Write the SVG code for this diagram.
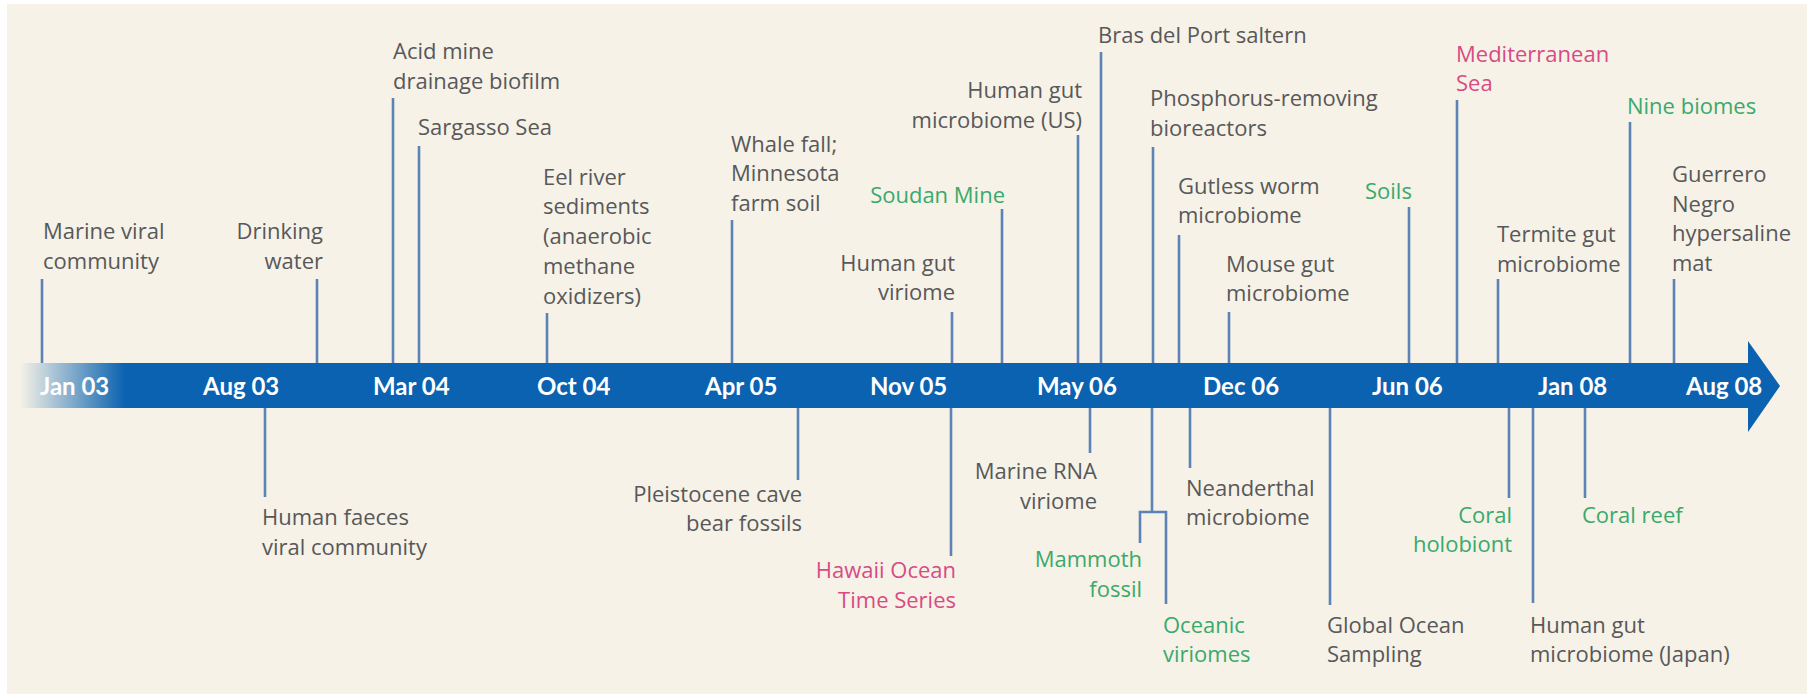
<svg xmlns="http://www.w3.org/2000/svg" width="1810" height="695" viewBox="0 0 1810 695">
<style>
.t{font-family:"Open Sans",Lato,"Liberation Sans",sans-serif;font-size:22px;fill:#58585a}
.g{fill:#3aa96b}
.p{fill:#d94a84}
.r{text-anchor:end}
.d{font-family:Lato,"Open Sans","Liberation Sans",sans-serif;font-size:24px;font-weight:bold;fill:#ffffff}
.c line,.c polyline{stroke:#5d83b6;stroke-width:2.6;fill:none}
</style>
<defs>
<linearGradient id="fade" x1="20" y1="0" x2="125" y2="0" gradientUnits="userSpaceOnUse">
<stop offset="0" stop-color="#0a62b0" stop-opacity="0"/>
<stop offset="1" stop-color="#0a62b0" stop-opacity="1"/>
</linearGradient>
</defs>
<rect x="0" y="0" width="1810" height="695" fill="#ffffff"/>
<rect x="7" y="4" width="1800" height="690" fill="#f6f2e7"/>

<g id="timeline">
<rect x="20" y="363" width="1730" height="45" fill="url(#fade)"/>
<polygon points="125,363 1748,363 1748,341 1780,386 1748,432 1748,408 125,408" fill="#0a62b0"/>
</g>

<g class="c" id="connectors">
<line x1="42" y1="279" x2="42" y2="363"/>
<line x1="317" y1="279" x2="317" y2="363"/>
<line x1="393" y1="98" x2="393" y2="363"/>
<line x1="419" y1="146" x2="419" y2="363"/>
<line x1="547" y1="313" x2="547" y2="363"/>
<line x1="732" y1="220" x2="732" y2="363"/>
<line x1="1002" y1="209" x2="1002" y2="363"/>
<line x1="952" y1="312" x2="952" y2="363"/>
<line x1="1078" y1="135" x2="1078" y2="363"/>
<line x1="1101" y1="52" x2="1101" y2="363"/>
<line x1="1153" y1="147" x2="1153" y2="363"/>
<line x1="1179" y1="235" x2="1179" y2="363"/>
<line x1="1229" y1="312" x2="1229" y2="363"/>
<line x1="1409" y1="207" x2="1409" y2="363"/>
<line x1="1457" y1="100" x2="1457" y2="363"/>
<line x1="1498" y1="279" x2="1498" y2="363"/>
<line x1="1630" y1="122" x2="1630" y2="363"/>
<line x1="1674" y1="279" x2="1674" y2="363"/>

<line x1="265" y1="408" x2="265" y2="497"/>
<line x1="798" y1="408" x2="798" y2="480"/>
<line x1="951" y1="408" x2="951" y2="556"/>
<line x1="1090" y1="408" x2="1090" y2="453"/>
<line x1="1152" y1="408" x2="1152" y2="512"/>
<polyline points="1140,543 1140,512 1166,512 1166,604"/>
<line x1="1190" y1="408" x2="1190" y2="468"/>
<line x1="1330" y1="408" x2="1330" y2="605"/>
<line x1="1509" y1="408" x2="1509" y2="498"/>
<line x1="1533" y1="408" x2="1533" y2="603"/>
<line x1="1585" y1="408" x2="1585" y2="498"/>
</g>

<g id="dates">
<text class="d" x="40" y="395">Jan 03</text>
<text class="d" x="203" y="395">Aug 03</text>
<text class="d" x="373" y="395">Mar 04</text>
<text class="d" x="537" y="395">Oct 04</text>
<text class="d" x="705" y="395">Apr 05</text>
<text class="d" x="870" y="395">Nov 05</text>
<text class="d" x="1037" y="395">May 06</text>
<text class="d" x="1203" y="395">Dec 06</text>
<text class="d" x="1372" y="395">Jun 06</text>
<text class="d" x="1538" y="395">Jan 08</text>
<text class="d" x="1686" y="395">Aug 08</text>
</g>

<g id="n-marine-viral"><text class="t" x="43" y="239">Marine viral</text><text class="t" x="43" y="269">community</text></g>
<g id="n-drinking"><text class="t r" x="323" y="239">Drinking</text><text class="t r" x="323" y="269">water</text></g>
<g id="n-acid-mine"><text class="t" x="393" y="59">Acid mine</text><text class="t" x="393" y="89">drainage biofilm</text></g>
<g id="n-sargasso"><text class="t" x="418" y="135">Sargasso Sea</text></g>
<g id="n-eel-river"><text class="t" x="543" y="185">Eel river</text><text class="t" x="543" y="214">sediments</text><text class="t" x="543" y="244">(anaerobic</text><text class="t" x="543" y="274">methane</text><text class="t" x="543" y="304">oxidizers)</text></g>
<g id="n-whale-fall"><text class="t" x="731" y="152">Whale fall;</text><text class="t" x="731" y="181">Minnesota</text><text class="t" x="731" y="211">farm soil</text></g>
<g id="n-soudan"><text class="t g r" x="1005" y="203">Soudan Mine</text></g>
<g id="n-gut-viriome"><text class="t r" x="955" y="271">Human gut</text><text class="t r" x="955" y="300">viriome</text></g>
<g id="n-gut-us"><text class="t r" x="1082" y="98">Human gut</text><text class="t r" x="1082" y="128">microbiome (US)</text></g>
<g id="n-bras"><text class="t" x="1098" y="43">Bras del Port saltern</text></g>
<g id="n-phosphorus"><text class="t" x="1150" y="106">Phosphorus-removing</text><text class="t" x="1150" y="136">bioreactors</text></g>
<g id="n-gutless"><text class="t" x="1178" y="194">Gutless worm</text><text class="t" x="1178" y="223">microbiome</text></g>
<g id="n-mouse"><text class="t" x="1226" y="272">Mouse gut</text><text class="t" x="1226" y="301">microbiome</text></g>
<g id="n-soils"><text class="t g" x="1365" y="199">Soils</text></g>
<g id="n-mediterranean"><text class="t p" x="1456" y="62">Mediterranean</text><text class="t p" x="1456" y="91">Sea</text></g>
<g id="n-termite"><text class="t" x="1497" y="242">Termite gut</text><text class="t" x="1497" y="272">microbiome</text></g>
<g id="n-nine-biomes"><text class="t g" x="1627" y="114">Nine biomes</text></g>
<g id="n-guerrero"><text class="t" x="1672" y="182">Guerrero</text><text class="t" x="1672" y="212">Negro</text><text class="t" x="1672" y="241">hypersaline</text><text class="t" x="1672" y="271">mat</text></g>

<g id="n-faeces"><text class="t" x="262" y="525">Human faeces</text><text class="t" x="262" y="555">viral community</text></g>
<g id="n-pleistocene"><text class="t r" x="802" y="502">Pleistocene cave</text><text class="t r" x="802" y="531">bear fossils</text></g>
<g id="n-hawaii"><text class="t p r" x="956" y="578">Hawaii Ocean</text><text class="t p r" x="956" y="608">Time Series</text></g>
<g id="n-marine-rna"><text class="t r" x="1097" y="479">Marine RNA</text><text class="t r" x="1097" y="509">viriome</text></g>
<g id="n-mammoth"><text class="t g r" x="1142" y="567">Mammoth</text><text class="t g r" x="1142" y="597">fossil</text></g>
<g id="n-oceanic"><text class="t g" x="1163" y="633">Oceanic</text><text class="t g" x="1163" y="662">viriomes</text></g>
<g id="n-neanderthal"><text class="t" x="1186" y="496">Neanderthal</text><text class="t" x="1186" y="525">microbiome</text></g>
<g id="n-global-ocean"><text class="t" x="1327" y="633">Global Ocean</text><text class="t" x="1327" y="662">Sampling</text></g>
<g id="n-coral-holobiont"><text class="t g r" x="1512" y="523">Coral</text><text class="t g r" x="1512" y="552">holobiont</text></g>
<g id="n-gut-japan"><text class="t" x="1530" y="633">Human gut</text><text class="t" x="1530" y="662">microbiome (Japan)</text></g>
<g id="n-coral-reef"><text class="t g" x="1582" y="523">Coral reef</text></g>
</svg>
